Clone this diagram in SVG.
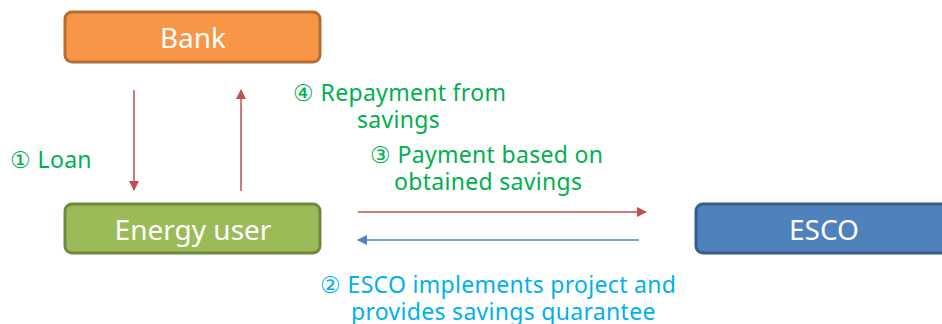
<svg xmlns="http://www.w3.org/2000/svg" width="942" height="324" viewBox="0 0 942 324">
<defs>
<style>
.node rect{stroke-width:3}
.nl{font-family:"Noto Sans","Open Sans",sans-serif;font-size:28px;fill:#fff;text-anchor:middle}
.lb{font-family:"Noto Sans","Open Sans",sans-serif;font-size:23px;letter-spacing:0.3px}
.g{fill:#00B050}
.b{fill:#00B0F0}
.red{stroke:#C0504D;stroke-width:1.5;fill:none}
.blue{stroke:#4F81BD;stroke-width:1.5;fill:none}
</style>
<marker id="ar" markerWidth="10" markerHeight="10" refX="9" refY="5" orient="auto" markerUnits="userSpaceOnUse"><path d="M0,0 L10,5 L0,10 z" fill="#C0504D"/></marker>
<marker id="ab" markerWidth="10" markerHeight="10" refX="9" refY="5" orient="auto" markerUnits="userSpaceOnUse"><path d="M0,0 L10,5 L0,10 z" fill="#4F81BD"/></marker>
</defs>
<rect width="942" height="324" fill="#fff"/>
<g id="bank" class="node"><rect x="65" y="12" width="255" height="50" rx="7" fill="#F79646" stroke="#B66D31"/><text class="nl" x="193" y="48">Bank</text></g>
<g id="energy-user" class="node"><rect x="65" y="204" width="255" height="49" rx="7" fill="#9BBB59" stroke="#71893F"/><text class="nl" x="193" y="240">Energy user</text></g>
<g id="esco" class="node"><rect x="696" y="204" width="260" height="49" rx="7" fill="#4F81BD" stroke="#385D8A"/><text class="nl" x="824" y="240">ESCO</text></g>
<g id="connectors">
<line class="red" x1="134" y1="90" x2="134" y2="190" marker-end="url(#ar)"/>
<line class="red" x1="241" y1="191" x2="241" y2="90" marker-end="url(#ar)"/>
<line class="red" x1="358" y1="212" x2="646" y2="212" marker-end="url(#ar)"/>
<line class="blue" x1="639" y1="240" x2="358" y2="240" marker-end="url(#ab)"/>
</g>
<g id="labels">
<text class="lb g" x="10" y="168">① Loan</text>
<text class="lb g" x="293" y="101">④ Repayment from</text>
<text class="lb g" x="357" y="128">savings</text>
<text class="lb g" x="370" y="163">③ Payment based on</text>
<text class="lb g" x="394" y="190">obtained savings</text>
<text class="lb b" x="320" y="293">② ESCO implements project and</text>
<text class="lb b" x="351" y="320">provides savings quarantee</text>
</g>
</svg>
